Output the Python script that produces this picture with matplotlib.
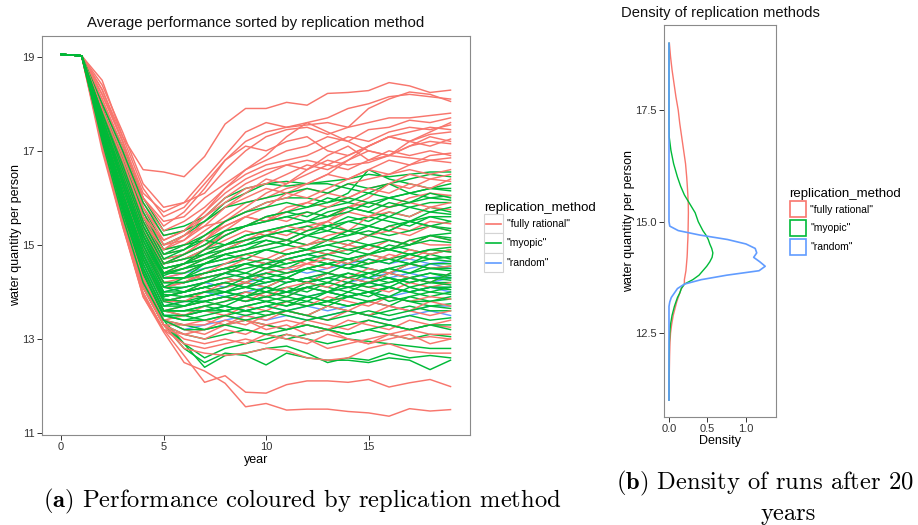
import matplotlib
matplotlib.use("Agg")
import matplotlib.pyplot as plt
from matplotlib.lines import Line2D
from matplotlib.patches import Rectangle, Patch
from matplotlib.legend_handler import HandlerBase

plt.rcParams['font.family'] = ['Liberation Sans', 'DejaVu Sans']
plt.rcParams['mathtext.fontset'] = 'cm'

# === 資料 ===
years = list(range(20))
start = [19.05, 19.02]  # year 0 and 1, identical for all runs

# values for years 2..19, one row per run
rational_runs = [
    [18.5, 17.3, 16.6, 16.55, 16.45, 16.88, 17.57, 17.9, 17.9, 18.03, 17.97, 18.22, 18.24, 18.28, 18.45, 18.38, 18.24, 18.29],
    [18.4, 17.4, 16.3, 15.8, 15.9, 16.4, 16.9, 17.4, 17.6, 17.5, 17.6, 17.7, 17.9, 18.0, 18.15, 18.2, 18.15, 18.1],
    [18.3, 17.3, 16.2, 15.6, 15.8, 16.3, 16.8, 17.2, 17.4, 17.5, 17.55, 17.6, 17.5, 17.9, 18.1, 18.25, 18.2, 18.05],
    [18.2, 17.2, 16.1, 15.7, 15.9, 16.1, 16.6, 17.0, 17.3, 17.45, 17.5, 17.35, 17.5, 17.6, 17.7, 17.7, 17.75, 17.8],
    [18.2, 17.2, 16.0, 15.5, 15.6, 16.0, 16.3, 16.6, 16.9, 17.3, 17.6, 17.4, 17.2, 17.45, 17.5, 17.65, 17.6, 17.7],
    [18.1, 17.1, 15.9, 15.3, 15.5, 15.8, 16.2, 16.5, 16.7, 16.8, 16.9, 17.1, 17.3, 17.2, 17.4, 17.5, 17.45, 17.55],
    [18.3, 17.2, 16.0, 15.4, 15.7, 16.2, 16.8, 17.1, 17.0, 17.2, 17.3, 17.0, 16.9, 17.1, 17.3, 17.2, 17.35, 17.4],
    [18.0, 17.0, 15.8, 15.2, 15.3, 15.6, 15.9, 16.2, 16.3, 16.5, 16.7, 16.6, 16.8, 17.0, 16.9, 17.1, 17.2, 17.15],
    [17.9, 16.9, 15.7, 15.0, 15.1, 15.5, 15.8, 16.0, 16.2, 16.1, 16.3, 16.5, 16.4, 16.6, 16.8, 16.7, 16.9, 16.95],
    [18.1, 17.0, 15.8, 15.1, 15.3, 15.7, 16.1, 16.4, 16.6, 16.7, 16.6, 16.8, 16.7, 16.75, 16.9, 16.85, 16.8, 16.85],
    [17.9, 16.8, 15.6, 14.9, 15.0, 15.3, 15.6, 15.9, 16.0, 16.2, 16.3, 16.5, 16.8, 17.1, 17.3, 17.4, 17.5, 17.45],
    [17.9, 16.9, 15.7, 15.0, 15.2, 15.4, 15.5, 15.7, 15.9, 16.0, 16.2, 16.1, 16.3, 16.4, 16.5, 16.6, 16.5, 16.6],
    [17.8, 16.7, 15.5, 14.8, 14.9, 15.2, 15.4, 15.6, 15.5, 15.8, 15.9, 16.1, 16.0, 16.2, 16.3, 16.2, 16.4, 16.35],
    [17.8, 16.6, 15.4, 14.7, 14.8, 15.0, 15.2, 15.4, 15.6, 15.5, 15.7, 15.6, 15.8, 15.9, 15.8, 16.0, 16.1, 16.05],
    [17.7, 16.5, 15.3, 14.5, 14.6, 14.8, 15.0, 15.1, 15.3, 15.2, 15.4, 15.5, 15.3, 15.6, 15.7, 15.6, 15.8, 15.75],
    [17.6, 16.4, 15.1, 14.3, 14.4, 14.6, 14.8, 14.9, 15.0, 15.1, 15.0, 15.2, 15.3, 15.2, 15.4, 15.3, 15.5, 15.45],
    [17.6, 16.3, 15.0, 14.1, 14.2, 14.4, 14.5, 14.7, 14.6, 14.8, 14.9, 14.8, 15.0, 14.9, 15.1, 15.0, 15.2, 15.1],
    [17.5, 16.1, 14.8, 13.9, 14.0, 14.2, 14.3, 14.2, 14.4, 14.5, 14.6, 14.5, 14.7, 14.6, 14.8, 14.7, 14.9, 14.85],
    [17.5, 16.0, 14.7, 13.8, 13.9, 14.0, 14.1, 14.2, 14.1, 14.3, 14.2, 14.4, 14.3, 14.5, 14.4, 14.6, 14.5, 14.55],
    [17.4, 15.9, 14.5, 13.6, 13.7, 13.8, 13.9, 13.8, 14.0, 13.9, 14.1, 14.0, 14.2, 14.1, 14.0, 14.2, 14.1, 14.2],
    [17.3, 15.7, 14.3, 13.4, 13.5, 13.6, 13.5, 13.7, 13.6, 13.8, 13.7, 13.9, 13.8, 13.7, 13.9, 13.8, 13.9, 13.85],
    [17.3, 15.6, 14.2, 13.3, 13.3, 13.4, 13.3, 13.5, 13.4, 13.6, 13.5, 13.4, 13.6, 13.5, 13.7, 13.6, 13.5, 13.6],
    [17.2, 15.5, 14.0, 13.2, 13.1, 13.0, 13.2, 13.1, 13.3, 13.2, 13.4, 13.3, 13.2, 13.4, 13.3, 13.2, 13.3, 13.25],
    [17.1, 15.4, 13.95, 13.2, 12.9, 12.8, 12.9, 13.0, 12.9, 13.1, 13.0, 12.8, 12.9, 13.0, 13.1, 13.0, 13.05, 13.0],
    [17.2, 15.5, 14.1, 13.3, 12.8, 12.7, 12.65, 12.7, 12.8, 12.75, 12.6, 12.55, 12.6, 12.8, 12.9, 12.75, 12.7, 12.7],
    [17.1, 15.45, 13.9, 13.2, 12.65, 12.08, 12.22, 11.87, 11.85, 12.03, 12.11, 12.11, 12.08, 12.14, 11.98, 12.07, 12.14, 11.99],
    [17.0, 15.4, 13.9, 13.15, 12.5, 12.32, 12.06, 11.56, 11.63, 11.49, 11.51, 11.51, 11.46, 11.43, 11.36, 11.52, 11.47, 11.5],
    [17.9, 16.8, 15.6, 14.9, 15.1, 15.4, 15.8, 16.1, 16.4, 16.3, 16.6, 16.9, 17.1, 16.8, 16.9, 17.2, 17.1, 17.25],
    [17.7, 16.6, 15.4, 14.6, 14.7, 14.9, 15.1, 15.3, 15.2, 15.1, 15.3, 15.5, 15.8, 16.0, 16.3, 16.5, 16.4, 16.5],
    [17.6, 16.3, 15.0, 14.2, 14.3, 14.3, 14.4, 14.6, 14.5, 14.7, 14.6, 14.8, 14.9, 15.0, 14.9, 15.1, 15.0, 15.0],
    [17.3, 15.7, 14.3, 13.4, 13.2, 13.1, 13.3, 13.4, 13.2, 13.3, 13.1, 13.2, 13.0, 12.9, 13.1, 13.2, 13.1, 13.1],
    [17.7, 16.5, 15.2, 14.4, 14.6, 14.9, 15.3, 15.6, 15.8, 16.1, 16.0, 16.2, 16.4, 16.6, 16.5, 16.7, 16.8, 16.75],
    [17.8, 16.6, 15.3, 14.6, 14.8, 15.1, 15.5, 15.8, 16.1, 16.3, 16.5, 16.7, 16.6, 16.8, 17.0, 16.9, 17.0, 16.9],
    [17.6, 16.4, 15.2, 14.4, 14.5, 14.7, 14.9, 15.1, 15.2, 15.4, 15.3, 15.5, 15.7, 15.6, 15.8, 15.9, 15.8, 15.9],
    [17.5, 16.2, 14.9, 14.1, 14.2, 14.4, 14.6, 14.8, 14.7, 14.9, 15.0, 15.1, 15.0, 15.2, 15.3, 15.2, 15.4, 15.3],
    [17.4, 16.0, 14.7, 13.8, 13.8, 14.0, 14.2, 14.3, 14.5, 14.4, 14.6, 14.7, 14.6, 14.8, 14.7, 14.9, 14.8, 14.9],
    [17.3, 15.8, 14.5, 13.6, 13.5, 13.7, 13.8, 14.0, 13.9, 14.1, 14.2, 14.1, 14.3, 14.2, 14.4, 14.3, 14.2, 14.4],
    [17.2, 15.6, 14.2, 13.3, 13.1, 13.2, 13.4, 13.3, 13.5, 13.6, 13.5, 13.7, 13.6, 13.8, 13.7, 13.6, 13.8, 13.7],
    [17.7, 16.5, 15.3, 14.6, 14.8, 15.1, 15.4, 15.6, 15.5, 15.7, 15.9, 15.8, 16.0, 16.2, 16.1, 16.3, 16.2, 16.4],
    [17.3, 15.7, 14.3, 13.4, 13.3, 13.3, 13.5, 13.4, 13.3, 13.4, 13.3, 13.2, 13.4, 13.3, 13.2, 13.4, 13.3, 13.4],
    [17.2, 15.5, 14.1, 13.3, 13.0, 12.9, 13.0, 12.9, 13.1, 13.0, 12.9, 13.1, 13.0, 12.9, 13.0, 13.1, 12.9, 13.0],
    [17.8, 16.7, 15.5, 14.9, 15.2, 15.6, 16.0, 16.3, 16.5, 16.7, 16.8, 16.7, 16.9, 17.1, 17.3, 17.2, 17.4, 17.6],
    [17.9, 16.8, 15.6, 15.1, 15.3, 15.7, 16.2, 16.6, 16.8, 17.0, 17.1, 17.3, 17.2, 17.0, 16.9, 17.1, 17.3, 17.2],
]

myopic_runs = [
    [18.0, 17.1, 16.0, 15.3, 15.4, 15.6, 16.0, 16.2, 16.3, 16.35, 16.3, 16.35, 16.4, 16.5, 16.45, 16.5, 16.55, 16.55],
    [17.9, 16.9, 15.8, 15.0, 15.2, 15.5, 15.9, 16.1, 16.3, 16.25, 16.3, 16.3, 16.2, 16.1, 16.3, 16.4, 16.5, 16.45],
    [17.9, 16.8, 15.6, 14.8, 15.0, 15.2, 15.5, 15.7, 15.9, 16.0, 16.0, 15.9, 16.1, 16.6, 16.4, 16.3, 16.2, 16.15],
    [17.8, 16.7, 15.5, 14.7, 14.8, 15.0, 15.2, 15.4, 15.6, 15.7, 15.6, 15.8, 15.9, 15.8, 16.0, 16.1, 16.0, 16.05],
    [17.8, 16.6, 15.4, 14.6, 14.7, 14.9, 15.0, 15.2, 15.3, 15.4, 15.5, 15.4, 15.6, 15.5, 15.7, 15.6, 15.8, 15.7],
    [17.7, 16.6, 15.3, 14.5, 14.6, 14.7, 14.9, 15.0, 15.1, 15.0, 15.2, 15.3, 15.2, 15.4, 15.3, 15.5, 15.4, 15.5],
    [17.7, 16.5, 15.3, 14.4, 14.5, 14.6, 14.7, 14.8, 14.9, 15.0, 14.9, 15.1, 15.0, 15.2, 15.1, 15.0, 15.2, 15.15],
    [17.7, 16.4, 15.2, 14.3, 14.3, 14.5, 14.6, 14.7, 14.6, 14.8, 14.9, 14.8, 14.9, 14.8, 15.0, 14.9, 14.8, 14.9],
    [17.6, 16.4, 15.1, 14.2, 14.2, 14.3, 14.4, 14.5, 14.6, 14.5, 14.7, 14.6, 14.7, 14.8, 14.7, 14.6, 14.8, 14.7],
    [17.6, 16.2, 14.9, 14.0, 14.1, 14.2, 14.3, 14.2, 14.4, 14.3, 14.5, 14.4, 14.6, 14.5, 14.4, 14.6, 14.5, 14.55],
    [17.5, 16.2, 14.8, 13.9, 14.0, 14.1, 14.0, 14.2, 14.1, 14.3, 14.2, 14.4, 14.3, 14.2, 14.4, 14.3, 14.4, 14.35],
    [17.5, 16.1, 14.7, 13.8, 13.9, 13.9, 14.0, 14.1, 14.0, 14.1, 14.0, 14.2, 14.1, 14.2, 14.1, 14.3, 14.2, 14.2],
    [17.5, 16.0, 14.6, 13.7, 13.8, 13.8, 13.9, 13.8, 13.9, 14.0, 13.9, 13.8, 14.0, 13.9, 14.1, 14.0, 13.9, 14.0],
    [17.4, 15.9, 14.5, 13.6, 13.6, 13.7, 13.6, 13.7, 13.8, 13.7, 13.8, 13.7, 13.9, 13.8, 13.7, 13.9, 13.8, 13.85],
    [17.4, 15.8, 14.4, 13.5, 13.5, 13.4, 13.5, 13.6, 13.5, 13.6, 13.5, 13.7, 13.6, 13.5, 13.6, 13.7, 13.6, 13.6],
    [17.3, 15.7, 14.2, 13.3, 13.1, 13.0, 13.1, 13.2, 13.1, 13.0, 13.1, 13.2, 13.1, 13.2, 13.1, 13.0, 13.1, 13.05],
    [17.3, 15.6, 14.1, 13.3, 12.8, 12.5, 12.7, 12.65, 12.45, 12.7, 12.6, 12.55, 12.55, 12.5, 12.6, 12.55, 12.35, 12.55],
    [17.2, 15.6, 14.1, 13.3, 12.9, 12.4, 12.65, 12.7, 12.8, 12.85, 12.7, 12.5, 12.6, 12.55, 12.7, 12.6, 12.65, 12.6],
    [17.3, 15.7, 14.2, 13.4, 12.9, 12.6, 12.8, 12.9, 13.0, 13.1, 13.0, 12.9, 13.0, 12.95, 12.9, 12.85, 12.8, 12.8],
    [18.0, 17.0, 15.9, 15.2, 15.3, 15.5, 15.8, 15.9, 16.0, 16.1, 16.2, 16.1, 16.3, 16.2, 16.3, 16.1, 16.2, 16.2],
    [17.9, 16.8, 15.6, 14.8, 14.9, 15.1, 15.3, 15.4, 15.5, 15.6, 15.7, 15.6, 15.8, 15.7, 15.6, 15.8, 15.9, 15.9],
    [17.7, 16.5, 15.2, 14.4, 14.4, 14.6, 14.8, 14.9, 15.0, 15.1, 15.0, 15.1, 15.2, 15.3, 15.2, 15.3, 15.4, 15.35],
    [17.6, 16.4, 15.1, 14.2, 14.2, 14.4, 14.5, 14.4, 14.6, 14.7, 14.8, 14.7, 14.6, 14.8, 14.9, 14.8, 14.7, 14.75],
    [17.6, 16.3, 15.0, 14.1, 14.1, 14.2, 14.3, 14.4, 14.3, 14.4, 14.5, 14.6, 14.5, 14.4, 14.5, 14.6, 14.5, 14.45],
    [17.5, 16.2, 14.8, 13.9, 14.0, 14.1, 14.2, 14.1, 14.2, 14.3, 14.2, 14.3, 14.4, 14.3, 14.2, 14.3, 14.4, 14.3],
    [17.5, 16.1, 14.7, 13.8, 13.8, 13.9, 14.0, 13.9, 14.1, 14.0, 14.2, 14.1, 14.0, 14.2, 14.3, 14.1, 14.2, 14.15],
    [17.4, 15.9, 14.5, 13.6, 13.7, 13.8, 13.7, 13.9, 13.8, 13.9, 13.8, 14.0, 13.9, 14.0, 13.8, 13.9, 14.0, 13.95],
    [17.4, 15.8, 14.4, 13.5, 13.4, 13.5, 13.6, 13.5, 13.6, 13.5, 13.4, 13.5, 13.6, 13.5, 13.4, 13.5, 13.4, 13.45],
    [17.3, 15.7, 14.3, 13.4, 13.3, 13.2, 13.3, 13.4, 13.3, 13.2, 13.3, 13.2, 13.3, 13.4, 13.3, 13.2, 13.3, 13.2],
    [17.8, 16.6, 15.4, 14.6, 14.7, 14.8, 14.9, 15.1, 15.2, 15.3, 15.4, 15.3, 15.5, 15.6, 15.5, 15.4, 15.6, 15.6],
    [17.7, 16.6, 15.3, 14.5, 14.6, 14.7, 14.8, 14.7, 14.9, 14.8, 14.9, 15.0, 14.9, 15.0, 14.9, 15.0, 15.1, 15.05],
    [17.7, 16.4, 15.2, 14.3, 14.3, 14.4, 14.5, 14.6, 14.5, 14.6, 14.7, 14.6, 14.7, 14.6, 14.7, 14.8, 14.7, 14.65],
    [17.6, 16.2, 14.9, 14.0, 14.0, 14.1, 14.2, 14.3, 14.2, 14.3, 14.2, 14.3, 14.2, 14.4, 14.3, 14.2, 14.3, 14.25],
    [17.5, 16.1, 14.7, 13.8, 13.7, 13.8, 13.9, 14.0, 13.9, 14.0, 14.1, 14.0, 14.1, 14.0, 14.1, 14.0, 14.1, 14.05],
    [17.4, 15.9, 14.5, 13.6, 13.5, 13.6, 13.7, 13.6, 13.7, 13.8, 13.7, 13.8, 13.7, 13.8, 13.9, 13.8, 13.7, 13.75],
    [17.9, 16.8, 15.7, 14.9, 15.0, 15.1, 15.0, 15.2, 15.3, 15.4, 15.5, 15.6, 15.7, 15.9, 16.0, 16.1, 16.2, 16.3],
    [17.7, 16.5, 15.2, 14.35, 14.5, 14.7, 14.9, 15.0, 15.2, 15.3, 15.2, 15.4, 15.5, 15.4, 15.6, 15.5, 15.7, 15.65],
    [17.6, 16.3, 15.0, 14.1, 14.3, 14.6, 14.8, 14.9, 15.1, 15.0, 15.2, 15.1, 15.3, 15.4, 15.3, 15.5, 15.6, 15.5],
    [17.5, 16.1, 14.8, 13.9, 14.0, 14.2, 14.4, 14.6, 14.5, 14.7, 14.8, 14.9, 14.8, 15.0, 15.1, 15.0, 15.2, 15.25],
    [17.5, 16.0, 14.7, 13.8, 13.9, 14.0, 14.1, 14.3, 14.4, 14.3, 14.5, 14.6, 14.5, 14.7, 14.6, 14.8, 14.9, 14.85],
    [17.4, 15.9, 14.6, 13.7, 13.7, 13.9, 14.0, 14.1, 14.0, 14.2, 14.3, 14.2, 14.4, 14.3, 14.5, 14.4, 14.6, 14.6],
    [17.4, 15.8, 14.5, 13.6, 13.6, 13.7, 13.8, 13.9, 14.0, 13.9, 14.1, 14.0, 14.2, 14.1, 14.2, 14.3, 14.2, 14.4],
    [17.3, 15.8, 14.4, 13.5, 13.5, 13.6, 13.6, 13.7, 13.8, 13.7, 13.9, 13.8, 13.9, 14.0, 13.9, 14.1, 14.0, 14.1],
    [17.8, 16.7, 15.5, 14.7, 14.9, 15.2, 15.5, 15.7, 15.8, 15.9, 15.8, 16.0, 15.9, 16.1, 16.0, 15.9, 16.1, 16.0],
    [17.8, 16.6, 15.4, 14.6, 14.8, 15.0, 15.3, 15.4, 15.5, 15.6, 15.5, 15.7, 15.8, 15.7, 15.9, 15.8, 15.7, 15.8],
    [17.7, 16.5, 15.3, 14.5, 14.6, 14.8, 15.0, 15.1, 15.2, 15.1, 15.3, 15.4, 15.3, 15.2, 15.4, 15.5, 15.4, 15.3],
    [17.6, 16.4, 15.2, 14.4, 14.5, 14.6, 14.7, 14.8, 14.9, 14.8, 14.9, 15.0, 15.1, 15.0, 14.9, 15.1, 15.2, 15.1],
    [17.6, 16.3, 15.1, 14.3, 14.3, 14.4, 14.5, 14.6, 14.7, 14.6, 14.7, 14.8, 14.7, 14.8, 14.9, 14.8, 14.9, 14.95],
    [17.5, 16.2, 15.0, 14.2, 14.2, 14.3, 14.4, 14.3, 14.5, 14.4, 14.5, 14.6, 14.5, 14.6, 14.7, 14.6, 14.7, 14.75],
    [17.5, 16.1, 14.9, 14.1, 14.0, 14.1, 14.2, 14.1, 14.3, 14.2, 14.3, 14.4, 14.3, 14.4, 14.5, 14.4, 14.5, 14.5],
    [17.4, 16.0, 14.8, 13.95, 13.9, 14.0, 14.0, 13.9, 14.1, 14.0, 14.1, 14.2, 14.1, 14.2, 14.3, 14.2, 14.3, 14.3],
    [17.4, 15.9, 14.7, 13.85, 13.8, 13.8, 13.9, 13.8, 13.9, 13.8, 13.9, 14.0, 13.9, 14.0, 14.1, 14.0, 14.1, 14.1],
    [17.3, 15.8, 14.5, 13.6, 13.6, 13.6, 13.7, 13.6, 13.7, 13.6, 13.7, 13.8, 13.7, 13.8, 13.9, 13.8, 13.8, 13.9],
    [17.3, 15.7, 14.4, 13.5, 13.4, 13.4, 13.5, 13.4, 13.5, 13.6, 13.5, 13.4, 13.5, 13.6, 13.5, 13.6, 13.7, 13.65],
    [17.2, 15.6, 14.2, 13.4, 13.2, 13.2, 13.3, 13.2, 13.1, 13.2, 13.3, 13.2, 13.1, 13.2, 13.3, 13.2, 13.3, 13.3],
    [17.7, 16.4, 15.2, 14.4, 14.6, 14.9, 15.2, 15.4, 15.6, 15.7, 15.8, 15.9, 16.0, 15.9, 15.8, 15.9, 16.0, 15.95],
]

random_runs = [
    [17.6, 16.3, 15.0, 14.1, 14.2, 14.3, 14.4, 14.3, 14.4, 14.5, 14.4, 14.5, 14.6, 14.5, 14.4, 14.5, 14.6, 14.5],
    [17.5, 16.1, 14.8, 13.9, 14.0, 14.1, 14.2, 14.1, 14.2, 14.3, 14.2, 14.3, 14.2, 14.3, 14.4, 14.3, 14.2, 14.3],
    [17.5, 16.1, 14.7, 13.8, 13.9, 14.0, 13.9, 14.0, 14.1, 14.0, 14.1, 14.0, 14.1, 14.2, 14.1, 14.0, 14.1, 14.1],
    [17.4, 16.0, 14.6, 13.7, 13.8, 13.8, 13.9, 13.8, 13.9, 14.0, 13.9, 14.0, 13.9, 14.0, 13.9, 14.0, 14.1, 14.0],
    [17.4, 15.8, 14.4, 13.5, 13.5, 13.6, 13.7, 13.6, 13.7, 13.6, 13.7, 13.6, 13.7, 13.8, 13.7, 13.6, 13.7, 13.7],
    [17.6, 16.4, 15.2, 14.3, 14.4, 14.5, 14.6, 14.7, 14.6, 14.7, 14.8, 14.7, 14.6, 14.7, 14.6, 14.7, 14.6, 14.65],
    [17.3, 15.7, 14.3, 13.4, 13.2, 13.3, 13.4, 13.5, 13.4, 13.5, 13.4, 13.5, 13.6, 13.5, 13.4, 13.5, 13.6, 13.5],
    [17.5, 16.2, 14.9, 14.0, 14.1, 14.2, 14.1, 14.2, 14.3, 14.2, 14.3, 14.4, 14.3, 14.2, 14.3, 14.4, 14.3, 14.35],
]

methods = ['"fully rational"', '"myopic"', '"random"']
colors = ['#F8766D', '#00BA38', '#619CFF']

# density of final water quantity
dens_y = [11.0, 11.5, 12.0, 12.3, 12.5, 12.7, 12.9, 13.1, 13.2, 13.3, 13.4, 13.5, 13.6, 13.7,
          13.8, 13.9, 14.0, 14.1, 14.2, 14.3, 14.4, 14.5, 14.6, 14.7, 14.8, 14.9, 15.0, 15.2,
          15.4, 15.6, 15.8, 16.0, 16.3, 16.6, 16.9, 17.2, 17.5, 17.8, 18.1, 18.4, 18.7, 19.0]
dens_rational = [0.0, 0.003, 0.008, 0.013, 0.02, 0.035, 0.055, 0.085, 0.1, 0.12, 0.14, 0.16, 0.2, 0.2,
                 0.21, 0.22, 0.225, 0.23, 0.235, 0.238, 0.24, 0.242, 0.245, 0.247, 0.248, 0.249, 0.25, 0.252,
                 0.25, 0.245, 0.238, 0.23, 0.215, 0.19, 0.165, 0.14, 0.12, 0.09, 0.065, 0.04, 0.02, 0.005]
dens_myopic = [0.0, 0.0, 0.002, 0.005, 0.01, 0.02, 0.04, 0.07, 0.09, 0.11, 0.14, 0.16, 0.2, 0.31,
               0.39, 0.44, 0.49, 0.53, 0.56, 0.57, 0.555, 0.53, 0.51, 0.48, 0.44, 0.41, 0.38, 0.34,
               0.27, 0.2, 0.15, 0.11, 0.06, 0.025, 0.003, 0.0, 0.0, 0.0, 0.0, 0.0, 0.0, 0.0]
dens_random = [0.0, 0.0, 0.0, 0.0, 0.0, 0.0, 0.0, 0.0, 0.01, 0.03, 0.07, 0.11, 0.2, 0.42,
               0.75, 1.17, 1.25, 1.18, 1.10, 1.14, 1.12, 1.0, 0.76, 0.40, 0.12, 0.01, 0.0, 0.0,
               0.0, 0.0, 0.0, 0.0, 0.0, 0.0, 0.0, 0.0, 0.0, 0.0, 0.0, 0.0, 0.0, 0.0]


# === 圖例樣式 (ggplot 風格的方框) ===
class KeyHandler(HandlerBase):
    def __init__(self, outline):
        super().__init__()
        self.outline = outline

    def create_artists(self, legend, orig, xd, yd, w, h, fontsize, trans):
        if self.outline:
            c = orig.get_edgecolor()
            box = Rectangle((-xd + 1, -yd + 1), w - 2, h - 2, facecolor='white',
                            edgecolor=c, lw=1.2, transform=trans)
            return [box]
        box = Rectangle((-xd, -yd), w, h, facecolor='white', edgecolor='#d4d4d4',
                        lw=0.8, transform=trans)
        ln = Line2D([-xd + 0.12 * w, -xd + 0.88 * w], [-yd + h / 2] * 2,
                    color=orig.get_color(), lw=1.2, transform=trans)
        return [box, ln]


def style_axes(ax):
    for s in ax.spines.values():
        s.set_color('#8a8a8a')
        s.set_linewidth(0.8)
    ax.tick_params(length=3.5, width=0.7, color='#333333', labelsize=8,
                   labelcolor='#333333', pad=1.5)


fig = plt.figure(figsize=(9.18, 5.25), dpi=100)

# === (a) 各次模擬的折線 ===
ax1 = fig.add_axes([0.0454, 0.1714, 0.4666, 0.76])
for run in random_runs:
    ax1.plot(years, start + run, color=colors[2], lw=1.05)
for i in range(max(len(rational_runs), len(myopic_runs))):
    if i < len(rational_runs):
        ax1.plot(years, start + rational_runs[i], color=colors[0], lw=1.05)
    if i < len(myopic_runs):
        ax1.plot(years, start + myopic_runs[i], color=colors[1], lw=1.05)
ax1.set_xlim(-0.95, 19.95)
ax1.set_ylim(10.96, 19.44)
ax1.set_xticks([0, 5, 10, 15])
ax1.set_yticks([11, 13, 15, 17, 19])
style_axes(ax1)

fig.text(256 / 918, 1 - 23 / 525, 'Average performance sorted by replication method',
         ha='center', va='center', fontsize=10.8, color='#111111')
fig.text(256 / 918, 1 - 460 / 525, 'year', ha='center', va='center', fontsize=9)
fig.text(16 / 918, 1 - 235 / 525, 'water quantity per person', ha='center', va='center',
         rotation=90, fontsize=9)

h1 = [Line2D([], [], color=c) for c in colors]
fig.legend(h1, methods, loc='upper left', bbox_to_anchor=(484 / 918, 1 - 202 / 525),
           frameon=False, fontsize=7.5, title='replication_method', title_fontsize=9.5,
           handlelength=1.83, handleheight=2.5, labelspacing=0, handletextpad=0.35,
           borderpad=0, borderaxespad=0, alignment='left',
           handler_map={Line2D: KeyHandler(False)})

# === (b) 密度圖 ===
ax2 = fig.add_axes([0.7233, 0.2057, 0.122, 0.7467])
ax2.plot(dens_rational, dens_y, color=colors[0], lw=1.0)
ax2.plot(dens_myopic, dens_y, color=colors[1], lw=1.0)
ax2.plot(dens_random, dens_y, color=colors[2], lw=1.2)
ax2.set_xlim(-0.065, 1.39)
ax2.set_ylim(10.62, 19.41)
ax2.set_xticks([0, 0.5, 1.0])
ax2.set_xticklabels(['0.0', '0.5', '1.0'])
ax2.set_yticks([12.5, 15.0, 17.5])
ax2.set_yticklabels(['12.5', '15.0', '17.5'])
style_axes(ax2)

fig.text(720 / 918, 1 - 13 / 525, 'Density of replication methods', ha='center', va='center',
         fontsize=10.6, color='#111111')
fig.text(720 / 918, 1 - 441 / 525, 'Density', ha='center', va='center', fontsize=9)
fig.text(629 / 918, 1 - 221 / 525, 'water quantity per person', ha='center', va='center',
         rotation=90, fontsize=9)

h2 = [Patch(facecolor='white', edgecolor=c) for c in colors]
fig.legend(h2, methods, loc='upper left', bbox_to_anchor=(789 / 918, 1 - 188 / 525),
           frameon=False, fontsize=7.5, title='replication_method', title_fontsize=9.5,
           handlelength=1.73, handleheight=2.4, labelspacing=0, handletextpad=0.3,
           borderpad=0, borderaxespad=0, alignment='left',
           handler_map={Patch: KeyHandler(True)})

# === 圖說 ===
cap = dict(ha='center', va='center', fontsize=17.7, fontfamily='cmr10')
fig.text(302 / 918, 1 - 501 / 525, r'$\mathbf{(a)}$ Performance coloured by replication method', **cap)
fig.text(765 / 918, 1 - 483 / 525, r'$\mathbf{(b)}$ Density of runs after 20', **cap)
fig.text(788 / 918, 1 - 514 / 525, 'years', **cap)

fig.savefig('out.png', dpi=100)
